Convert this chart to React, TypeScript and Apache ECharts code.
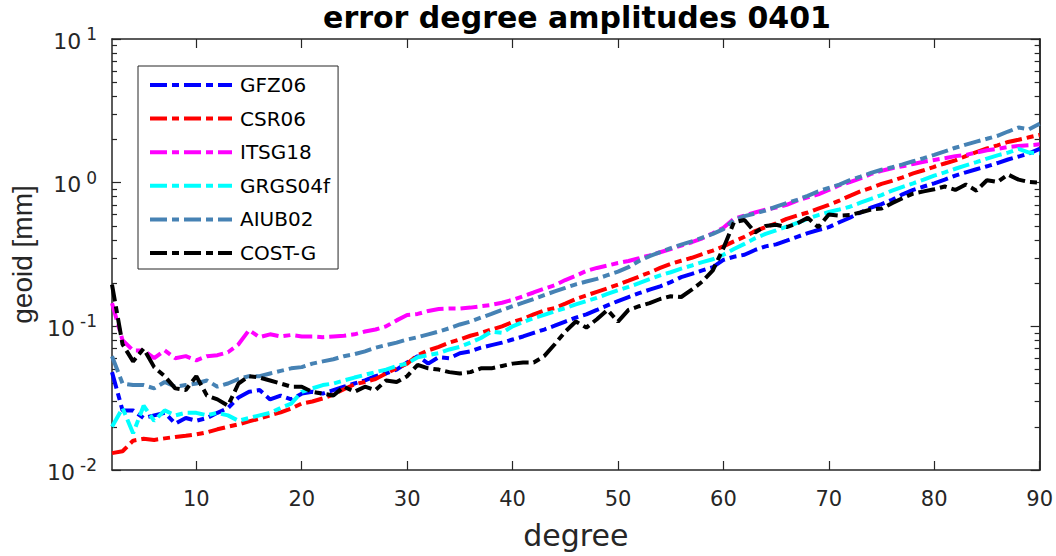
import React, { useEffect, useRef } from 'react';
import * as echarts from 'echarts';

const degrees: number[] = Array.from({ length: 89 }, (_, i) => i + 2);

const GFZ06 = [0.048, 0.026, 0.026, 0.023, 0.024, 0.025, 0.021, 0.023, 0.022, 0.023, 0.025, 0.027, 0.032, 0.035, 0.036, 0.031, 0.033, 0.031, 0.034, 0.035, 0.034, 0.036, 0.038, 0.040, 0.042, 0.045, 0.047, 0.050, 0.056, 0.062, 0.055, 0.061, 0.060, 0.065, 0.067, 0.071, 0.074, 0.077, 0.081, 0.085, 0.090, 0.095, 0.101, 0.108, 0.115, 0.121, 0.130, 0.140, 0.150, 0.160, 0.170, 0.180, 0.190, 0.203, 0.220, 0.232, 0.245, 0.258, 0.290, 0.305, 0.315, 0.340, 0.360, 0.372, 0.395, 0.420, 0.445, 0.468, 0.49, 0.53, 0.57, 0.62, 0.67, 0.71, 0.76, 0.83, 0.89, 0.94, 0.99, 1.05, 1.12, 1.18, 1.24, 1.30, 1.37, 1.45, 1.52, 1.60, 1.72];
const CSR06 = [0.0131, 0.0135, 0.0160, 0.0165, 0.0162, 0.0166, 0.0170, 0.0173, 0.0177, 0.0183, 0.0192, 0.0200, 0.0208, 0.0218, 0.0228, 0.0240, 0.0252, 0.0268, 0.0290, 0.0300, 0.0315, 0.0335, 0.0365, 0.0395, 0.0410, 0.0430, 0.0470, 0.0510, 0.0550, 0.0630, 0.0680, 0.0720, 0.0770, 0.0810, 0.0860, 0.0900, 0.0950, 0.1000, 0.1070, 0.1130, 0.1210, 0.1290, 0.1340, 0.1440, 0.1550, 0.1640, 0.1740, 0.1840, 0.1950, 0.2080, 0.2220, 0.2370, 0.2550, 0.2720, 0.2860, 0.3000, 0.3180, 0.3370, 0.3600, 0.3900, 0.4200, 0.4600, 0.4900, 0.5200, 0.5600, 0.5900, 0.6200, 0.6600, 0.7000, 0.7500, 0.8100, 0.8700, 0.9200, 0.9800, 1.0300, 1.0900, 1.1600, 1.2200, 1.2900, 1.3600, 1.4300, 1.5300, 1.6300, 1.7300, 1.8200, 1.9200, 1.9900, 2.0700, 2.1500];
const ITSG18 = [0.145, 0.080, 0.068, 0.068, 0.060, 0.068, 0.060, 0.062, 0.058, 0.062, 0.063, 0.066, 0.075, 0.094, 0.084, 0.088, 0.085, 0.087, 0.085, 0.085, 0.084, 0.085, 0.086, 0.088, 0.092, 0.095, 0.100, 0.110, 0.120, 0.122, 0.128, 0.132, 0.133, 0.133, 0.135, 0.138, 0.141, 0.146, 0.153, 0.162, 0.172, 0.183, 0.193, 0.210, 0.225, 0.243, 0.255, 0.265, 0.276, 0.285, 0.298, 0.312, 0.328, 0.345, 0.365, 0.385, 0.410, 0.445, 0.485, 0.56, 0.59, 0.62, 0.65, 0.67, 0.70, 0.75, 0.79, 0.83, 0.89, 0.96, 1.01, 1.07, 1.15, 1.21, 1.26, 1.30, 1.35, 1.40, 1.44, 1.48, 1.53, 1.56, 1.62, 1.68, 1.72, 1.77, 1.80, 1.82, 1.85];
const GRGS04f = [0.020, 0.027, 0.018, 0.028, 0.022, 0.026, 0.024, 0.025, 0.025, 0.024, 0.025, 0.024, 0.022, 0.023, 0.024, 0.025, 0.027, 0.029, 0.035, 0.037, 0.039, 0.040, 0.042, 0.044, 0.046, 0.048, 0.050, 0.053, 0.055, 0.061, 0.063, 0.065, 0.069, 0.072, 0.077, 0.083, 0.092, 0.090, 0.100, 0.107, 0.114, 0.120, 0.127, 0.134, 0.142, 0.150, 0.158, 0.168, 0.178, 0.188, 0.200, 0.213, 0.226, 0.238, 0.252, 0.265, 0.280, 0.293, 0.315, 0.345, 0.375, 0.410, 0.440, 0.465, 0.495, 0.525, 0.560, 0.595, 0.625, 0.650, 0.680, 0.725, 0.770, 0.820, 0.880, 0.935, 0.990, 1.050, 1.120, 1.180, 1.250, 1.320, 1.390, 1.470, 1.550, 1.620, 1.720, 1.620, 1.600];
const AIUB02 = [0.062, 0.040, 0.039, 0.039, 0.037, 0.041, 0.038, 0.039, 0.040, 0.042, 0.038, 0.040, 0.043, 0.045, 0.045, 0.047, 0.049, 0.051, 0.052, 0.055, 0.057, 0.059, 0.062, 0.064, 0.067, 0.071, 0.074, 0.077, 0.081, 0.084, 0.088, 0.092, 0.097, 0.103, 0.108, 0.115, 0.122, 0.130, 0.138, 0.146, 0.155, 0.165, 0.175, 0.185, 0.196, 0.205, 0.214, 0.227, 0.240, 0.258, 0.285, 0.308, 0.328, 0.350, 0.370, 0.390, 0.415, 0.440, 0.475, 0.550, 0.585, 0.610, 0.640, 0.680, 0.720, 0.760, 0.810, 0.870, 0.920, 0.970, 1.040, 1.100, 1.170, 1.230, 1.280, 1.340, 1.410, 1.480, 1.560, 1.650, 1.750, 1.840, 1.930, 2.020, 2.120, 2.270, 2.420, 2.350, 2.570];
const COSTG = [0.195, 0.075, 0.057, 0.070, 0.052, 0.045, 0.037, 0.036, 0.045, 0.033, 0.031, 0.028, 0.040, 0.045, 0.044, 0.042, 0.040, 0.038, 0.038, 0.035, 0.034, 0.033, 0.038, 0.035, 0.038, 0.036, 0.042, 0.041, 0.045, 0.054, 0.051, 0.050, 0.048, 0.047, 0.048, 0.051, 0.051, 0.053, 0.055, 0.056, 0.056, 0.062, 0.075, 0.092, 0.108, 0.098, 0.112, 0.130, 0.108, 0.130, 0.138, 0.145, 0.155, 0.162, 0.160, 0.180, 0.205, 0.245, 0.350, 0.530, 0.550, 0.450, 0.500, 0.510, 0.490, 0.520, 0.570, 0.490, 0.600, 0.590, 0.595, 0.620, 0.650, 0.660, 0.720, 0.780, 0.840, 0.870, 0.900, 0.940, 0.890, 0.970, 0.880, 1.040, 1.010, 1.140, 1.050, 1.010, 1.000];

const seriesNames = ['GFZ06', 'CSR06', 'ITSG18', 'GRGS04f', 'AIUB02', 'COST-G'];
const seriesValues = [GFZ06, CSR06, ITSG18, GRGS04f, AIUB02, COSTG];
const seriesColors = ['#0000ff', '#ff0000', '#ff00ff', '#00ffff', '#4682b4', '#000000'];

const xTicks = [10, 20, 30, 40, 50, 60, 70, 80, 90];
const yMajor = [0.01, 0.1, 1, 10];
const yMinor = [0.02, 0.03, 0.04, 0.05, 0.06, 0.07, 0.08, 0.09, 0.2, 0.3, 0.4, 0.5, 0.6, 0.7, 0.8, 0.9, 2, 3, 4, 5, 6, 7, 8, 9];

const WIDE = '"DejaVu Sans", Verdana, sans-serif';
const NARROW = '"Liberation Sans", Arial, Helvetica, sans-serif';
const AXIS_COLOR = '#262626';
const DASH = [17, 5, 7, 5];

export default function App() {
  const ref = useRef<HTMLDivElement>(null);
  useEffect(() => {
    if (!ref.current) return;
    const chart = echarts.init(ref.current, undefined, { renderer: 'svg' });
    const axisLine = { show: true, lineStyle: { color: AXIS_COLOR, width: 1.5 } };
    const tickStyle = { color: AXIS_COLOR, width: 1.2 };
    const yAxisBase = (pos: 'left' | 'right', ticks: number[], len: number, labels: boolean, name?: string) => ({
      type: 'log',
      logBase: 10,
      min: 0.01,
      max: 10,
      position: pos,
      axisLine: labels || pos === 'right' ? axisLine : { show: false },
      splitLine: { show: false },
      axisTick: { show: true, inside: true, length: len, customValues: ticks, lineStyle: tickStyle },
      axisLabel: labels
        ? {
            show: true,
            customValues: yMajor,
            margin: 15,
            formatter: (v: number) => `{b|10}{e|${Math.round(Math.log10(v))}}`,
            rich: {
              b: { fontSize: 22, fontFamily: WIDE, color: AXIS_COLOR, lineHeight: 27, padding: [4, 0, 0, 0] },
              e: { fontSize: 17, fontFamily: WIDE, color: AXIS_COLOR, lineHeight: 13, verticalAlign: 'top', padding: [0, 0, 0, 5] },
            },
          }
        : { show: false },
      name: name,
      nameLocation: 'middle',
      nameGap: 72,
      nameTextStyle: { fontSize: 28, fontFamily: NARROW, color: AXIS_COLOR },
    });
    chart.setOption({
      animation: false,
      backgroundColor: '#ffffff',
      grid: { left: 112, right: 14, top: 39, bottom: 86, containLabel: false },
      graphic: [
        {
          type: 'text',
          x: 577,
          y: 2,
          style: {
            text: 'error degree amplitudes 0401',
            fontSize: 30,
            fontWeight: 'bold',
            fontFamily: WIDE,
            fill: '#000',
            textAlign: 'center',
            textVerticalAlign: 'top',
          },
        },
      ],
      legend: {
        orient: 'vertical',
        left: 138,
        top: 66,
        padding: [9, 8, 6, 10],
        itemWidth: 82,
        itemHeight: 20,
        itemGap: 13.6,
        backgroundColor: '#fff',
        borderColor: AXIS_COLOR,
        borderWidth: 1,
        textStyle: { fontSize: 20, fontFamily: WIDE, color: '#000', padding: [0, 0, 0, 3] },
        itemStyle: { opacity: 0, borderWidth: 0 },
        lineStyle: { width: 4, type: DASH },
        data: seriesNames,
      },
      xAxis: [
        {
          type: 'value',
          min: 2,
          max: 90,
          position: 'bottom',
          axisLine: axisLine,
          splitLine: { show: false },
          axisTick: { show: true, inside: true, length: 9, customValues: xTicks, lineStyle: tickStyle },
          axisLabel: { show: true, customValues: xTicks, fontSize: 21, fontFamily: WIDE, color: AXIS_COLOR, margin: 18 },
          name: 'degree',
          nameLocation: 'middle',
          nameGap: 50,
          nameTextStyle: { fontSize: 30, fontFamily: WIDE, color: AXIS_COLOR },
        },
        {
          type: 'value',
          min: 2,
          max: 90,
          position: 'top',
          axisLine: axisLine,
          splitLine: { show: false },
          axisTick: { show: true, inside: true, length: 9, customValues: xTicks, lineStyle: tickStyle },
          axisLabel: { show: false },
        },
      ],
      yAxis: [
        yAxisBase('left', yMajor, 9, true, 'geoid [mm]'),
        yAxisBase('left', yMinor, 5, false),
        yAxisBase('right', yMajor, 9, false),
        yAxisBase('right', yMinor, 5, false),
      ],
      series: seriesNames.map((name, k) => ({
        name,
        type: 'line',
        xAxisIndex: 0,
        yAxisIndex: 0,
        symbol: 'none',
        showSymbol: false,
        clip: true,
        color: seriesColors[k],
        lineStyle: { width: 4, type: DASH, color: seriesColors[k], cap: 'butt' },
        data: degrees.map((d, i) => [d, seriesValues[k][i]]),
      })),
    });
    return () => chart.dispose();
  }, []);
  return <div ref={ref} style={{ position: 'absolute', left: 0, top: 0, width: 1056, height: 556 }} />;
}
